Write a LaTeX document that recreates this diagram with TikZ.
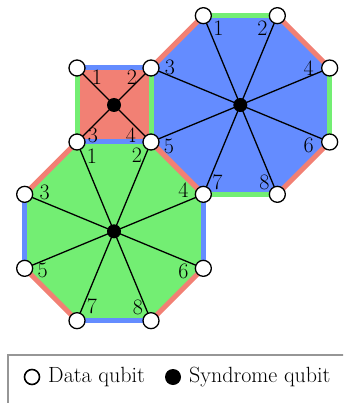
\documentclass[tikz,border=0pt]{standalone}
\usepackage{fontspec}
\usetikzlibrary{calc}
\pgfdeclarelayer{bg}
\pgfsetlayers{bg,main}
\definecolor{qred}{RGB}{242,128,116}
\definecolor{qblue}{RGB}{100,140,255}
\definecolor{qgreen}{RGB}{115,238,115}
\definecolor{boxgray}{RGB}{150,150,150}
\tikzset{
  every node/.style={font=\fontsize{22}{26}\selectfont},
  dq/.style={circle,draw=black,fill=white,line width=1.3pt,minimum size=16pt,inner sep=0pt},
  sq/.style={circle,fill=black,minimum size=14pt,inner sep=0pt},
  lab/.style={inner sep=0pt},
  eg/.style={line width=5pt,line cap=butt},
  spoke/.style={line width=1.3pt,black},
}
\begin{document}
\begin{tikzpicture}[x=1pt,y=-1pt]
\useasboundingbox (0,0) rectangle (343,403);
\clip (0,0) rectangle (343,403);
% syndrome qubits
\node[sq] (rs) at (114,105) {};
\node[sq] (bs) at (240.33,105) {};
\node[sq] (gs) at (114,231.33) {};
% data qubits
\node[dq] (s1) at (77,68) {};
\node[dq] (s2) at (151,68) {};
\node[dq] (s3) at (77,142) {};
\node[dq] (s4) at (151,142) {};
\node[dq] (b1) at (203.33,15.67) {};
\node[dq] (b2) at (277.33,15.67) {};
\node[dq] (b4) at (329.67,68) {};
\node[dq] (b6) at (329.67,142) {};
\node[dq] (b7) at (203.33,194.33) {};
\node[dq] (b8) at (277.33,194.33) {};
\node[dq] (g3) at (24.67,194.33) {};
\node[dq] (g5) at (24.67,268.33) {};
\node[dq] (g6) at (203.33,268.33) {};
\node[dq] (g7) at (77,320.67) {};
\node[dq] (g8) at (151,320.67) {};
\begin{pgfonlayer}{bg}
% fills
\fill[qred] (s1.center) -- (s2.center) -- (s4.center) -- (s3.center) -- cycle;
\fill[qblue] (b1.center) -- (b2.center) -- (b4.center) -- (b6.center) -- (b8.center) -- (b7.center) -- (s4.center) -- (s2.center) -- cycle;
\fill[qgreen] (s3.center) -- (s4.center) -- (b7.center) -- (g6.center) -- (g8.center) -- (g7.center) -- (g5.center) -- (g3.center) -- cycle;
% coloured edges: blue octagon
\draw[eg,qgreen] (b1.center) -- (b2.center);
\draw[eg,qred] (b2.center) -- (b4.center);
\draw[eg,qgreen] (b4.center) -- (b6.center);
\draw[eg,qred] (b6.center) -- (b8.center);
\draw[eg,qgreen] (b8.center) -- (b7.center);
\draw[eg,qred] (b7.center) -- (s4.center);
\draw[eg,qred] (s2.center) -- (b1.center);
% green octagon
\draw[eg,qred] (s4.center) -- (b7.center);
\draw[eg,qblue] (b7.center) -- (g6.center);
\draw[eg,qred] (g6.center) -- (g8.center);
\draw[eg,qblue] (g8.center) -- (g7.center);
\draw[eg,qred] (g7.center) -- (g5.center);
\draw[eg,qblue] (g5.center) -- (g3.center);
\draw[eg,qred] (g3.center) -- (s3.center);
% square
\draw[eg,qblue] (s1.center) -- (s2.center);
\draw[eg,qgreen] (s2.center) -- (s4.center);
\draw[eg,qblue] (s4.center) -- (s3.center);
\draw[eg,qgreen] (s3.center) -- (s1.center);
% spokes
\foreach \v in {s1,s2,s3,s4} \draw[spoke] (rs.center) -- (\v.center);
\foreach \v in {b1,b2,s2,b4,s4,b6,b7,b8} \draw[spoke] (bs.center) -- (\v.center);
\foreach \v in {s3,s4,g3,b7,g5,g6,g7,g8} \draw[spoke] (gs.center) -- (\v.center);
\end{pgfonlayer}
% labels: square
\node[lab] (ls1) at ($(s1.center)+(20,9)$) {1};
\node[lab] (ls2) at ($(s2.center)+(-19,9)$) {2};
\node[lab] (ls3) at ($(s3.center)+(16,-7)$) {3};
\node[lab] (ls4) at ($(s4.center)+(-20,-7)$) {4};
% labels: blue octagon
\node[lab] (lb1) at ($(b1.center)+(15,13)$) {1};
\node[lab] (lb2) at ($(b2.center)+(-15,13)$) {2};
\node[lab] (lb3) at ($(s2.center)+(19,-1)$) {3};
\node[lab] (lb4) at ($(b4.center)+(-21,0)$) {4};
\node[lab] (lb5) at ($(s4.center)+(18,4)$) {5};
\node[lab] (lb6) at ($(b6.center)+(-21,3)$) {6};
\node[lab] (lb7) at ($(b7.center)+(14,-12)$) {7};
\node[lab] (lb8) at ($(b8.center)+(-13,-12)$) {8};
% labels: green octagon
\node[lab] (lg1) at ($(s3.center)+(15,14)$) {1};
\node[lab] (lg2) at ($(s4.center)+(-14,13)$) {2};
\node[lab] (lg3) at ($(g3.center)+(20,-2)$) {3};
\node[lab] (lg4) at ($(b7.center)+(-20,-4)$) {4};
\node[lab] (lg5) at ($(g5.center)+(18,2)$) {5};
\node[lab] (lg6) at ($(g6.center)+(-20,3)$) {6};
\node[lab] (lg7) at ($(g7.center)+(15,-14)$) {7};
\node[lab] (lg8) at ($(g8.center)+(-13,-13)$) {8};
% legend
\draw[boxgray,line width=1.5pt] (8,355) rectangle (380,440);
\node[dq,minimum size=15pt,line width=1.6pt] (legd) at (32,377) {};
\node[inner sep=0pt,anchor=base west] (legdt) at (48,382) {Data qubit};
\node[sq,minimum size=16pt] (legs) at (173,377) {};
\node[inner sep=0pt,anchor=base west] (legst) at (189,382) {Syndrome qubit};
\end{tikzpicture}
\end{document}
